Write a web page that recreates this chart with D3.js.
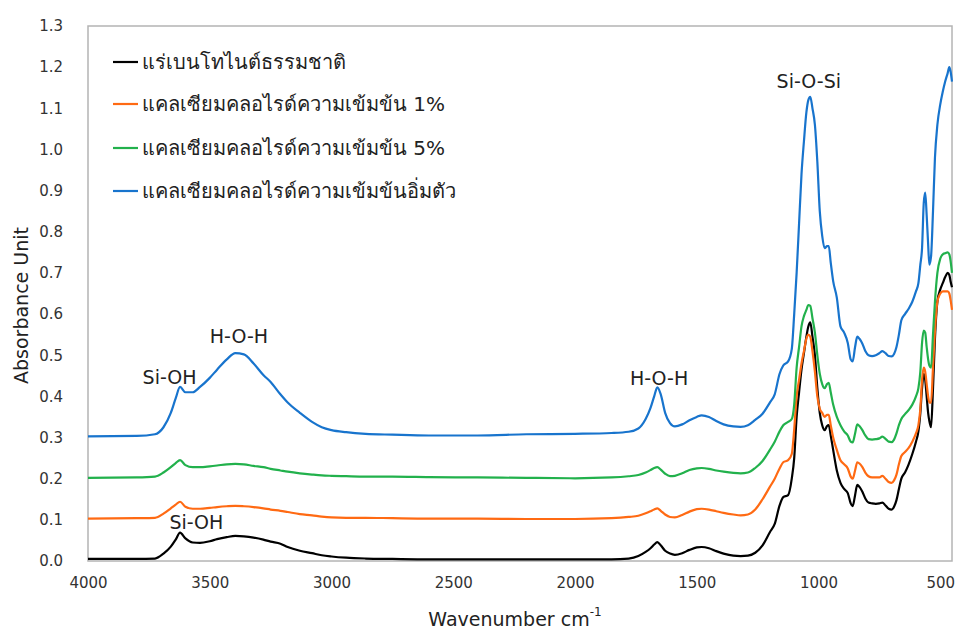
<!DOCTYPE html>
<html>
<head>
<meta charset="utf-8">
<script src="https://cdn.jsdelivr.net/npm/d3@7"></script>
<style>
  html, body { margin: 0; padding: 0; background: #ffffff; }
  svg { display: block; }
  text { font-family: "DejaVu Sans", "Noto Sans", sans-serif; }
</style>
</head>
<body>
<svg id="chart" width="957" height="630"></svg>
<script>
// ---------------- DATA ----------------
const seriesNames = [
  "แร่เบนโทไนต์ธรรมชาติ",
  "แคลเซียมคลอไรด์ความเข้มข้น 1%",
  "แคลเซียมคลอไรด์ความเข้มข้น 5%",
  "แคลเซียมคลอไรด์ความเข้มข้นอิ่มตัว"
];
const seriesColors = ["#000000", "#FF6A13", "#22B14C", "#1874CD"];

const wavenumbers = [
  4000, 3800, 3725, 3690, 3660, 3640, 3622, 3600, 3570, 3540, 3500, 3470, 3430, 3395, 3360, 3320, 3280, 3250, 3210, 3180,
  3130, 3080, 3040, 3000, 2940, 2860, 2750, 2600, 2400, 2200, 2000, 1850, 1780, 1740, 1710, 1690, 1675, 1662, 1648, 1630,
  1610, 1590, 1560, 1530, 1500, 1480, 1450, 1420, 1390, 1350, 1320, 1290, 1260, 1230, 1200, 1180, 1160, 1145, 1125, 1110,
  1100, 1090, 1080, 1070, 1060, 1050, 1042, 1034, 1025, 1015, 1005, 995, 985, 975, 965, 958, 950, 940, 925, 910,
  895, 880, 868, 860, 850, 841, 832, 820, 808, 795, 780, 765, 750, 738, 725, 712, 700, 690, 680, 670,
  660, 645, 630, 615, 600, 590, 582, 575, 568, 562, 556, 550, 545, 538, 530, 522, 512, 500, 490, 480,
  470, 463, 458, 452
];

const naturalBentonite = [
  0.005, 0.005, 0.006, 0.018, 0.035, 0.052, 0.069, 0.055, 0.045, 0.044, 0.048, 0.053, 0.058, 0.061, 0.060, 0.057, 0.052, 0.047, 0.042, 0.034,
  0.025, 0.019, 0.014, 0.011, 0.008, 0.006, 0.005, 0.004, 0.004, 0.004, 0.004, 0.004, 0.006, 0.012, 0.022, 0.031, 0.040, 0.046, 0.038, 0.025,
  0.018, 0.015, 0.019, 0.027, 0.033, 0.034, 0.031, 0.024, 0.018, 0.013, 0.012, 0.013, 0.020, 0.038, 0.070, 0.090, 0.135, 0.155, 0.160, 0.200,
  0.250, 0.350, 0.410, 0.465, 0.505, 0.545, 0.570, 0.580, 0.545, 0.500, 0.420, 0.360, 0.330, 0.318, 0.328, 0.330, 0.305, 0.270, 0.220, 0.190,
  0.175, 0.165, 0.140, 0.133, 0.160, 0.185, 0.180, 0.168, 0.152, 0.142, 0.140, 0.139, 0.140, 0.142, 0.135, 0.127, 0.125, 0.132, 0.148, 0.175,
  0.200, 0.215, 0.235, 0.260, 0.290, 0.315, 0.360, 0.420, 0.455, 0.440, 0.400, 0.360, 0.340, 0.325, 0.420, 0.540, 0.630, 0.660, 0.675, 0.690,
  0.700, 0.695, 0.680, 0.665
];

const cacl2_1 = [
  0.103, 0.104, 0.105, 0.115, 0.128, 0.137, 0.144, 0.132, 0.127, 0.127, 0.129, 0.131, 0.133, 0.134, 0.133, 0.131, 0.128, 0.125, 0.122, 0.119,
  0.114, 0.111, 0.108, 0.106, 0.105, 0.105, 0.104, 0.103, 0.103, 0.102, 0.102, 0.104, 0.107, 0.110, 0.116, 0.121, 0.125, 0.128, 0.122, 0.113,
  0.107, 0.106, 0.112, 0.120, 0.126, 0.127, 0.125, 0.121, 0.117, 0.113, 0.111, 0.113, 0.125, 0.150, 0.180, 0.200, 0.225, 0.240, 0.245, 0.260,
  0.320, 0.400, 0.440, 0.480, 0.510, 0.540, 0.550, 0.545, 0.510, 0.460, 0.400, 0.370, 0.360, 0.350, 0.355, 0.355, 0.330, 0.300, 0.270, 0.245,
  0.235, 0.225, 0.205, 0.200, 0.220, 0.240, 0.237, 0.228, 0.215, 0.206, 0.203, 0.203, 0.203, 0.207, 0.200, 0.192, 0.190, 0.196, 0.210, 0.235,
  0.255, 0.265, 0.275, 0.290, 0.310, 0.330, 0.370, 0.440, 0.470, 0.460, 0.430, 0.400, 0.385, 0.385, 0.470, 0.560, 0.630, 0.650, 0.655, 0.655,
  0.655, 0.650, 0.635, 0.610
];

const cacl2_5 = [
  0.202, 0.203, 0.205, 0.215, 0.228, 0.238, 0.245, 0.233, 0.228, 0.228, 0.230, 0.232, 0.235, 0.236, 0.235, 0.231, 0.228, 0.224, 0.220, 0.217,
  0.213, 0.210, 0.208, 0.207, 0.206, 0.205, 0.205, 0.204, 0.203, 0.202, 0.201, 0.203, 0.206, 0.209, 0.215, 0.221, 0.226, 0.228, 0.222, 0.212,
  0.206, 0.207, 0.213, 0.221, 0.225, 0.226, 0.224, 0.220, 0.217, 0.214, 0.213, 0.215, 0.226, 0.243, 0.270, 0.290, 0.315, 0.330, 0.338, 0.345,
  0.380, 0.470, 0.520, 0.570, 0.595, 0.610, 0.622, 0.620, 0.590, 0.555, 0.500, 0.455, 0.430, 0.420, 0.430, 0.433, 0.410, 0.380, 0.350, 0.330,
  0.315, 0.305, 0.290, 0.288, 0.310, 0.332, 0.328, 0.318, 0.305, 0.296, 0.295, 0.296, 0.298, 0.302, 0.297, 0.290, 0.289, 0.295, 0.310, 0.330,
  0.345, 0.357, 0.367, 0.380, 0.400, 0.420, 0.460, 0.530, 0.560, 0.555, 0.520, 0.490, 0.475, 0.470, 0.550, 0.630, 0.700, 0.735, 0.745, 0.748,
  0.750, 0.745, 0.730, 0.700
];

const cacl2_sat = [
  0.303, 0.304, 0.308, 0.325, 0.360, 0.395, 0.423, 0.410, 0.410, 0.423, 0.445, 0.465, 0.490, 0.505, 0.502, 0.480, 0.452, 0.435, 0.405, 0.385,
  0.360, 0.338, 0.325, 0.318, 0.313, 0.309, 0.307, 0.305, 0.305, 0.308, 0.309, 0.311, 0.314, 0.322, 0.345, 0.372, 0.400, 0.422, 0.405, 0.360,
  0.335, 0.327, 0.332, 0.342, 0.350, 0.354, 0.350, 0.340, 0.332, 0.327, 0.326, 0.330, 0.343, 0.358, 0.385, 0.405, 0.455, 0.475, 0.485, 0.515,
  0.600, 0.700, 0.820, 0.940, 1.020, 1.090, 1.120, 1.128, 1.100, 1.060, 0.970, 0.850, 0.790, 0.760, 0.765, 0.765, 0.725, 0.680, 0.640, 0.570,
  0.555, 0.530, 0.490, 0.485, 0.520, 0.545, 0.540, 0.528, 0.510, 0.500, 0.498, 0.500, 0.505, 0.510, 0.505, 0.498, 0.497, 0.503, 0.520, 0.550,
  0.585, 0.600, 0.613, 0.630, 0.655, 0.675, 0.720, 0.760, 0.870, 0.895, 0.840, 0.770, 0.720, 0.740, 0.850, 0.980, 1.060, 1.110, 1.140, 1.165,
  1.185, 1.200, 1.190, 1.165
];

const seriesValues = [naturalBentonite, cacl2_1, cacl2_5, cacl2_sat];

const xTicks = [4000, 3500, 3000, 2500, 2000, 1500, 1000, 500];
const yTicks = [0.0, 0.1, 0.2, 0.3, 0.4, 0.5, 0.6, 0.7, 0.8, 0.9, 1.0, 1.1, 1.2, 1.3];

const annotations = [
  { text: "Si-OH",   w: 3665, v: 0.430 },
  { text: "H-O-H",   w: 3380, v: 0.530 },
  { text: "Si-OH",   w: 3555, v: 0.078 },
  { text: "H-O-H",   w: 1655, v: 0.428 },
  { text: "Si-O-Si", w: 1040, v: 1.150 }
];

// ---------------- CHART ----------------
const svg = d3.select("#chart");
const plot = { left: 88, right: 952, top: 26, bottom: 561 };

const x = d3.scaleLinear().domain([4000, 452]).range([plot.left, plot.right]);
const y = d3.scaleLinear().domain([0, 1.3]).range([plot.bottom, plot.top]);

// plot frame
svg.append("rect")
  .attr("x", plot.left).attr("y", plot.top)
  .attr("width", plot.right - plot.left).attr("height", plot.bottom - plot.top)
  .attr("fill", "none").attr("stroke", "#b4b4b4").attr("stroke-width", 1.5);

// axes (labels only)
const xAxis = d3.axisBottom(x).tickValues(xTicks).tickSize(0).tickPadding(16).tickFormat(d3.format("d"));
const gx = svg.append("g").attr("transform", `translate(0,${plot.bottom})`).call(xAxis);
gx.select(".domain").remove();
gx.selectAll("text").attr("font-size", 15).attr("fill", "#333");

const yAxis = d3.axisLeft(y).tickValues(yTicks).tickSize(0).tickPadding(25).tickFormat(d3.format(".1f"));
const gy = svg.append("g").attr("transform", `translate(${plot.left},0)`).call(yAxis);
gy.select(".domain").remove();
gy.selectAll("text").attr("font-size", 15).attr("fill", "#333");

// axis titles
svg.append("text")
  .attr("transform", `translate(28,${(plot.top + plot.bottom) / 2 + 12}) rotate(-90)`)
  .attr("text-anchor", "middle")
  .attr("font-size", 19).attr("fill", "#222")
  .text("Absorbance Unit");

const xt = svg.append("text")
  .attr("x", 515).attr("y", 626)
  .attr("text-anchor", "middle")
  .attr("font-size", 19).attr("fill", "#222");
xt.append("tspan").text("Wavenumber cm");
xt.append("tspan").attr("dy", -10).attr("font-size", 12).text("-1");

// lines
const line = d3.line()
  .x(d => x(d[0]))
  .y(d => y(d[1]))
  .curve(d3.curveMonotoneX);

svg.append("clipPath").attr("id", "clip")
  .append("rect").attr("x", plot.left).attr("y", plot.top - 5)
  .attr("width", plot.right - plot.left + 1).attr("height", plot.bottom - plot.top + 5);

seriesValues.forEach((vals, i) => {
  const pts = wavenumbers.map((w, j) => [w, vals[j]]);
  svg.append("path")
    .datum(pts)
    .attr("d", line)
    .attr("fill", "none")
    .attr("stroke", seriesColors[i])
    .attr("stroke-width", 2.2)
    .attr("stroke-linejoin", "round")
    .attr("clip-path", "url(#clip)");
});

// annotations
annotations.forEach(a => {
  svg.append("text")
    .attr("x", x(a.w)).attr("y", y(a.v))
    .attr("text-anchor", "middle")
    .attr("font-size", 19).attr("fill", "#222")
    .text(a.text);
});

// legend
const legendRows = [62, 104, 148, 191];
seriesNames.forEach((name, i) => {
  svg.append("line")
    .attr("x1", 113).attr("x2", 138)
    .attr("y1", legendRows[i]).attr("y2", legendRows[i])
    .attr("stroke", seriesColors[i]).attr("stroke-width", 2.2);
  svg.append("text")
    .attr("x", 142).attr("y", legendRows[i] + 7)
    .attr("font-size", 20).attr("fill", "#222")
    .text(name);
});
</script>
</body>
</html>
